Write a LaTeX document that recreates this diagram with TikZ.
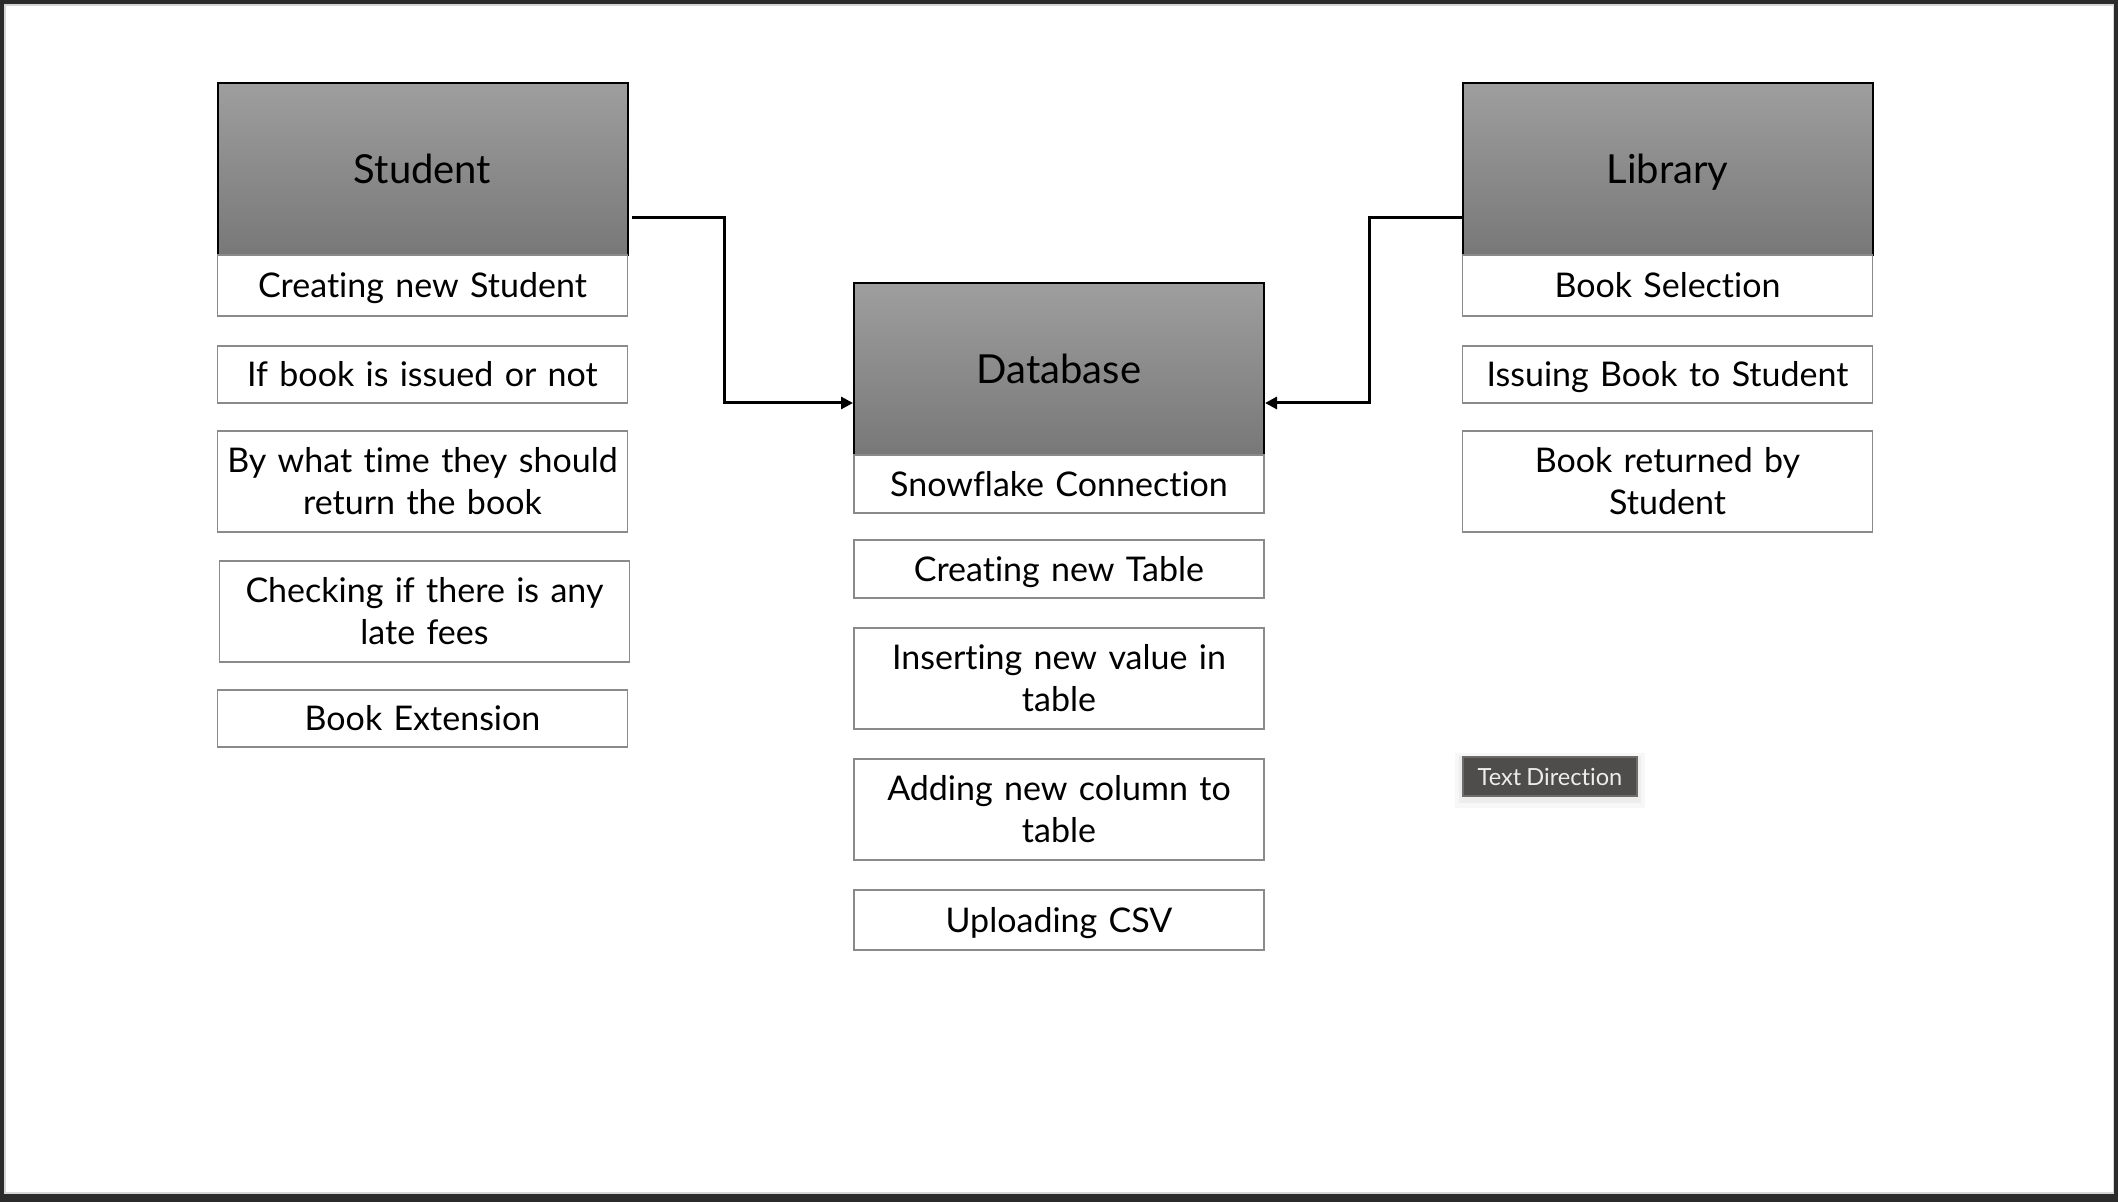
\documentclass[tikz,border=0pt]{standalone}
\usepackage{fontspec}
\setmainfont[Ligatures=NoCommon,WordSpace=0.85]{Lato}
\usetikzlibrary{arrows.meta}
\definecolor{frame}{HTML}{2B2B2B}
\definecolor{frameline}{HTML}{D6D6D6}
\definecolor{subline}{HTML}{8A8A8A}
\definecolor{tipfill}{HTML}{4F4D4B}
\definecolor{tipline}{HTML}{6E6C6A}
\definecolor{tiptext}{HTML}{ECECEC}
\begin{document}
\begin{tikzpicture}[x=0.5pt,y=-0.5pt,
  header/.style={draw=black, line width=1pt, top color=black!38, bottom color=black!53,
    minimum width=205pt, minimum height=86pt, inner sep=0pt,
    text height=14.4pt, text depth=0pt,
    font=\fontsize{20}{24}\selectfont},
  sub/.style={draw=subline, line width=0.9pt, fill=white, minimum width=205pt, inner sep=0pt,
    align=center, text width=200pt, text height=12.2pt, text depth=0pt,
    font=\fontsize{17}{21}\selectfont},
  subtwo/.style={sub, text depth=21pt},
  conn/.style={line width=1.5pt, -{Triangle[length=6pt,width=6pt]}},
  tip/.style={draw=tipline, fill=tipfill, text=tiptext, line width=0.6pt, inner sep=0pt,
    minimum width=87pt, minimum height=19.5pt, text height=8.5pt, text depth=0pt,
    font=\fontsize{11.8}{13}\selectfont}
]
% frame
\fill[frame] (0,0) rectangle (2118,1202);
\fill[frameline] (4,4) rectangle (2114,1194);
\fill[white] (6,6) rectangle (2113,1192);
\useasboundingbox (0,0) rectangle (2118,1202);

% headers
\node[header] (student) at (422.5,169) {Student};
\node[header] (library) at (1667.5,169) {Library};
\node[header] (database) at (1059,369) {Database};

% student column
\node[sub, minimum height=30.5pt] (s1) at (422.5,285.5) {Creating new Student};
\node[sub, minimum height=28.5pt] (s2) at (422.5,374.5) {If book is issued or not};
\node[subtwo, minimum height=50.5pt] (s3) at (422.5,481.5) {By what time they should\\return the book};
\node[subtwo, minimum height=50.5pt] (s4) at (424.5,611.5) {Checking if there is any\\late fees};
\node[sub, minimum height=28.5pt] (s5) at (422.5,718.5) {Book Extension};

% database column
\node[sub, minimum height=29pt] (d1) at (1059,484) {Snowflake Connection};
\node[sub, minimum height=29pt] (d2) at (1059,569) {Creating new Table};
\node[subtwo, minimum height=50.5pt] (d3) at (1059,678.5) {Inserting new value in\\table};
\node[subtwo, minimum height=50.5pt] (d4) at (1059,809.5) {Adding new column to\\table};
\node[sub, minimum height=30pt] (d5) at (1059,920) {Uploading CSV};

% library column
\node[sub, minimum height=30.5pt] (l1) at (1667.5,285.5) {Book Selection};
\node[sub, minimum height=28.5pt] (l2) at (1667.5,374.5) {Issuing Book to Student};
\node[subtwo, minimum height=50.5pt] (l3) at (1667.5,481.5) {Book returned by\\Student};

% connectors
\coordinate (sa) at (632,218);
\coordinate (la) at (1463,218);
\draw[conn] (sa) -| (724,403) -- (database.west |- 0,403);
\draw[conn] (la) -| (1369,403) -- (database.east |- 0,403);

% tooltip
\fill[black, opacity=0.03] (1455,753) rectangle (1645,808);
\fill[black, opacity=0.04] (1459,756) rectangle (1641,803);
\node[tip] (tooltip) at (1550,776.5) {Text Direction};
\end{tikzpicture}
\end{document}
